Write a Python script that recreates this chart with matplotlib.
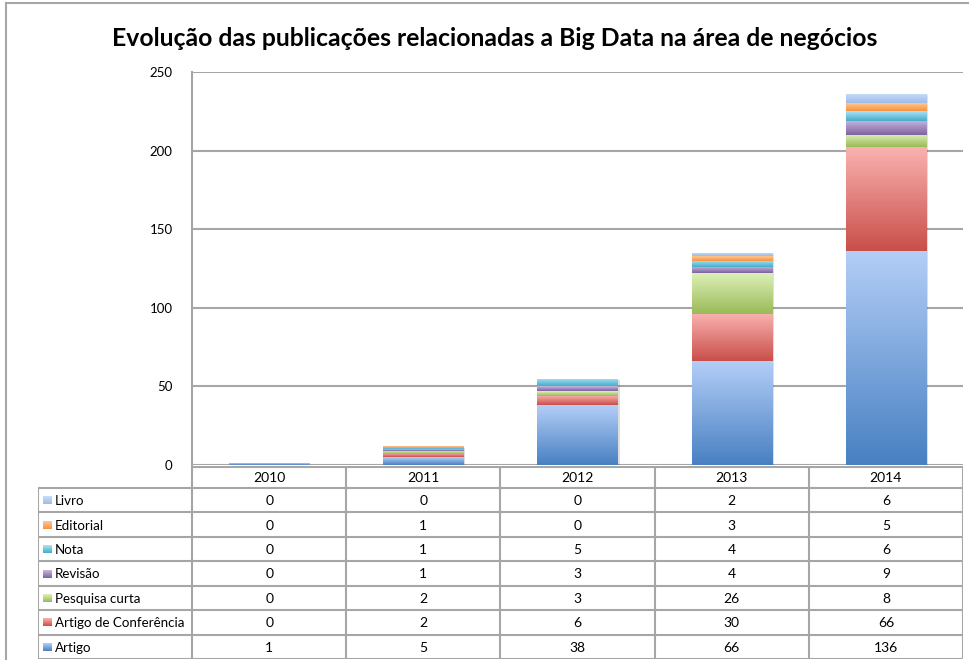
import matplotlib
matplotlib.use('Agg')
import matplotlib.pyplot as plt
import matplotlib.patheffects as pe
from matplotlib.colors import LinearSegmentedColormap
import numpy as np

plt.rcParams['font.family'] = ['Lato', 'DejaVu Sans']

# dados
anos = ['2010', '2011', '2012', '2013', '2014']
# ordem de empilhamento (de baixo para cima)
tipos = ['Artigo', 'Artigo de Conferência', 'Pesquisa curta', 'Revisão', 'Nota', 'Editorial', 'Livro']
artigo = [1, 5, 38, 66, 136]
artigo_conf = [0, 2, 6, 30, 66]
pesquisa_curta = [0, 2, 3, 26, 8]
revisao = [0, 1, 3, 4, 9]
nota = [0, 1, 5, 4, 6]
editorial = [0, 1, 0, 3, 5]
livro = [0, 0, 0, 2, 6]
valores = [artigo, artigo_conf, pesquisa_curta, revisao, nota, editorial, livro]

# (escuro embaixo, claro em cima)
cores = [('#4880C2', '#B3CEF7'),
         ('#C94F4A', '#F9B2B0'),
         ('#9ABA58', '#DCF0B6'),
         ('#7E63A0', '#C6B7DF'),
         ('#44ADCA', '#A8E4F4'),
         ('#F59342', '#FFC68F'),
         ('#9DBCEB', '#CADDF8')]

W, H = 970, 660
fig = plt.figure(figsize=(W / 100, H / 100), dpi=100)

grid_c = '#A6A6A6'

# moldura externa
fig.add_artist(plt.Line2D([6.5 / W, 6.5 / W], [0, 1 - 3 / H], color=grid_c, lw=1.5))
fig.add_artist(plt.Line2D([6.5 / W, 1], [1 - 3 / H, 1 - 3 / H], color=grid_c, lw=1.5))

fig.text(495 / W, 1 - 39 / H, 'Evolução das publicações relacionadas a Big Data na área de negócios',
         ha='center', va='center', fontsize=17.8, fontweight='bold')

ax = fig.add_axes([192 / W, 1 - 465 / H, 771 / W, 393 / H])
x = np.arange(len(anos))
base = np.zeros(len(anos))
for vals, (c0, c1) in zip(valores, cores):
    cmap = LinearSegmentedColormap.from_list('g', [c0, c1])
    grad = np.linspace(1, 0, 128).reshape(-1, 1)
    bars = ax.bar(x, vals, bottom=base, width=0.52, color=c0, linewidth=0, zorder=3)
    for b in bars:
        if b.get_height() <= 0:
            continue
        b.set_path_effects([pe.SimplePatchShadow(offset=(1.5, -1), alpha=0.15), pe.Normal()])
        x0, y0 = b.get_x(), b.get_y()
        im = ax.imshow(grad, cmap=cmap, vmin=0, vmax=1, aspect='auto',
                       extent=(x0, x0 + b.get_width(), y0, y0 + b.get_height()),
                       interpolation='bilinear', zorder=4)
        im.set_clip_path(b)
    base = base + np.array(vals)

ax.set_xlim(-0.5, len(anos) - 0.5)
ax.set_ylim(0, 250)
ax.set_yticks(range(0, 251, 50))
ax.set_xticks([])
ax.yaxis.grid(True, color=grid_c, lw=1.5, zorder=0)
ax.tick_params(axis='y', length=0, pad=14, labelsize=9.5)
for s in ['top', 'right', 'bottom']:
    ax.spines[s].set_visible(False)
ax.spines['left'].set_color(grid_c)
ax.spines['left'].set_linewidth(1.5)

# tabela de dados
tab = fig.add_axes([38 / W, 1 - 659 / H, 925 / W, 193 / H])
tab.axis('off')
hh = 22
rh = (193 - hh) / len(tipos)
lkw = dict(color=grid_c, lw=1.5)
tab.plot([-0.5, len(anos) - 0.5], [0.5, 0.5], **lkw)
for i in range(len(tipos) + 1):
    tab.plot([-1.5, len(anos) - 0.5], [hh + i * rh] * 2, **lkw)
tab.plot([-1.5, -1.5], [hh, 193], **lkw)
for j in range(len(anos) + 1):
    tab.plot([j - 0.5] * 2, [0, 193], **lkw)
for j, a in enumerate(anos):
    tab.text(j, hh / 2 + 1, a, ha='center', va='center', fontsize=10)

for i, idx in enumerate(range(len(tipos) - 1, -1, -1)):
    yc = hh + (i + 0.5) * rh
    c0, c1 = cores[idx]
    cmap = LinearSegmentedColormap.from_list('g', [c0, c1])
    sw = 8 / 154
    tab.imshow(np.linspace(1, 0, 32).reshape(-1, 1), cmap=cmap, vmin=0, vmax=1, aspect='auto',
               extent=(-1.5 + 5 / 154, -1.5 + 5 / 154 + sw, yc + 4, yc - 4), interpolation='bilinear')
    tab.text(-1.5 + 17 / 154, yc + 1, tipos[idx], ha='left', va='center', fontsize=9.6)
    for j in range(len(anos)):
        tab.text(j, yc + 1, str(valores[idx][j]), ha='center', va='center', fontsize=10)
tab.set_xlim(-1.5, len(anos) - 0.5)
tab.set_ylim(193, 0)

fig.savefig('out.png', dpi=100)
